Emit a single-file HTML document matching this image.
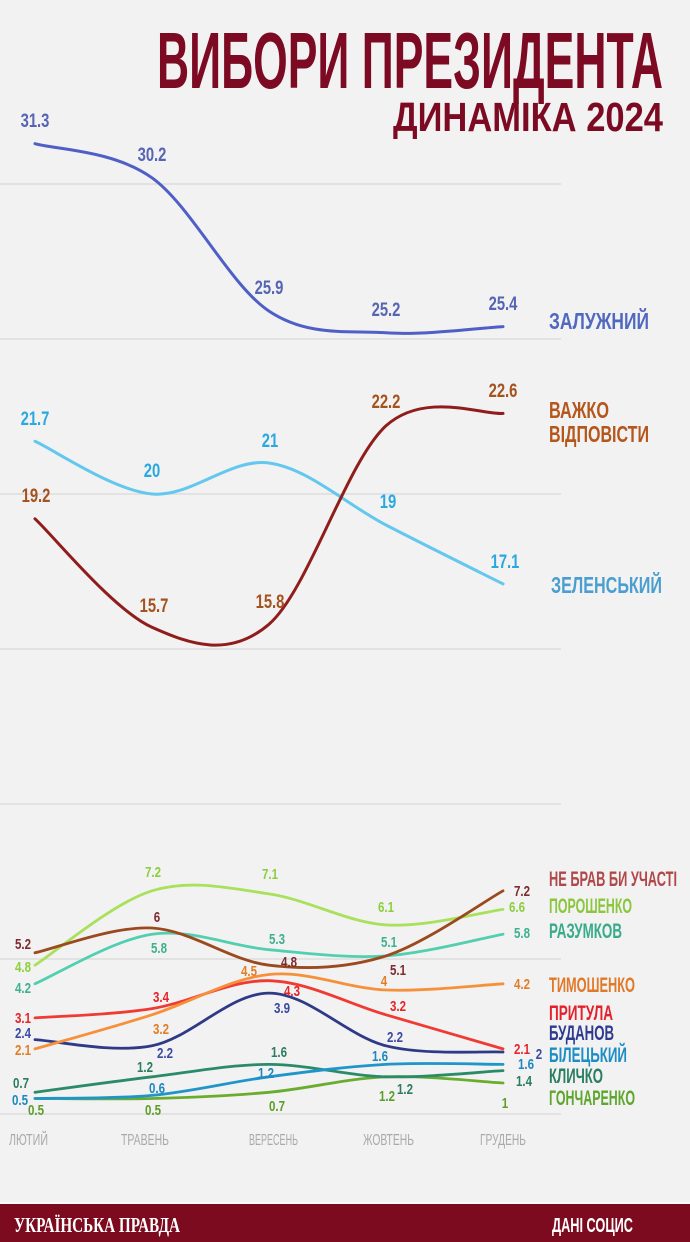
<!DOCTYPE html>
<html>
<head>
<meta charset="utf-8">
<style>
html,body{margin:0;padding:0;background:#f2f2f2;}
svg{display:block;}
text{font-family:"Liberation Sans","Noto Sans CJK SC",sans-serif;font-weight:bold;}
.n{font-size:19px;text-anchor:middle;}
.s{font-size:15px;text-anchor:middle;}
.lg{font-size:23px;}
.lb{font-size:21px;}
.m{font-size:16px;font-weight:normal;fill:#a9a9a9;}
path.l{fill:none;stroke-linecap:round;stroke-linejoin:round;}
</style>
</head>
<body>
<svg width="690" height="1242" viewBox="0 0 690 1242" xmlns="http://www.w3.org/2000/svg">
<rect x="0" y="0" width="690" height="1242" fill="#f2f2f2"/>

<!-- gridlines -->
<g stroke="#dcdcdc" stroke-width="1.5">
<line x1="0" y1="184" x2="561" y2="184"/>
<line x1="0" y1="339" x2="561" y2="339"/>
<line x1="0" y1="494" x2="561" y2="494"/>
<line x1="0" y1="649" x2="561" y2="649"/>
<line x1="0" y1="804" x2="561" y2="804"/>
<line x1="0" y1="959" x2="561" y2="959"/>
<line x1="0" y1="1114" x2="561" y2="1114"/>
</g>

<!-- title -->
<text x="157" y="88" font-size="80" fill="#7d0a23" textLength="506" lengthAdjust="spacingAndGlyphs">ВИБОРИ ПРЕЗИДЕНТА</text>
<text x="393" y="131" font-size="41" fill="#7d0a23" textLength="270" lengthAdjust="spacingAndGlyphs">ДИНАМІКА 2024</text>

<!-- top lines -->
<path class="l" stroke="#4f5fc5" stroke-width="3" d="M35,143.7 C54.5,149.4 113,149.9 152,177.8 C191,205.7 230,285.3 269,311.1 C308,336.9 347,330.2 386,332.8 C425,335.4 483.5,327.6 503,326.6"/>
<path class="l" stroke="#63c7ee" stroke-width="3" d="M35,441.3 C54.5,450.1 113,490.4 152,494 C191,497.6 230,457.8 269,463 C308,468.2 347,504.9 386,525 C425,545.2 483.5,574.1 503,583.9"/>
<path class="l" stroke="#8f1d1b" stroke-width="3" d="M35,518.8 C54.5,536.9 113,609.7 152,627.3 C191,644.9 230,657.8 269,624.2 C308,590.6 347,460.9 386,425.8 C425,390.7 483.5,415.5 503,413.4"/>

<!-- top labels -->
<g fill="#5664b4">
<text class="n" transform="translate(35 127) scale(.78 1)">31.3</text>
<text class="n" transform="translate(152 161) scale(.78 1)">30.2</text>
<text class="n" transform="translate(269 294) scale(.78 1)">25.9</text>
<text class="n" transform="translate(386 316) scale(.78 1)">25.2</text>
<text class="n" transform="translate(503 310) scale(.78 1)">25.4</text>
</g>
<g fill="#2aa8e0">
<text class="n" transform="translate(35 425) scale(.78 1)">21.7</text>
<text class="n" transform="translate(152 477) scale(.78 1)">20</text>
<text class="n" transform="translate(270 447) scale(.78 1)">21</text>
<text class="n" transform="translate(388 508) scale(.78 1)">19</text>
<text class="n" transform="translate(505 568) scale(.78 1)">17.1</text>
</g>
<g fill="#a4521e">
<text class="n" transform="translate(36 502) scale(.78 1)">19.2</text>
<text class="n" transform="translate(154 612) scale(.78 1)">15.7</text>
<text class="n" transform="translate(270 608) scale(.78 1)">15.8</text>
<text class="n" transform="translate(386 408) scale(.78 1)">22.2</text>
<text class="n" transform="translate(503 397) scale(.78 1)">22.6</text>
</g>

<!-- top legends -->
<text class="lg" x="549" y="329" fill="#5068c0" textLength="100" lengthAdjust="spacingAndGlyphs">ЗАЛУЖНИЙ</text>
<text class="lg" x="549" y="418" fill="#b5561c" textLength="60" lengthAdjust="spacingAndGlyphs">ВАЖКО</text>
<text class="lg" x="549" y="442" fill="#b5561c" textLength="100" lengthAdjust="spacingAndGlyphs">ВІДПОВІСТИ</text>
<text class="lg" x="551" y="593" fill="#4a9fd0" textLength="111" lengthAdjust="spacingAndGlyphs">ЗЕЛЕНСЬКИЙ</text>

<!-- bottom lines -->
<g stroke-width="2.8">
<path class="l" stroke="#6aad2e" d="M35,1098.5 C54.5,1098.5 113,1099.5 152,1098.5 C191,1097.5 230,1095.9 269,1092.3 C308,1088.7 347,1078.4 386,1076.8 C425,1075.3 483.5,1082 503,1083"/>
<path class="l" stroke="#2b8b69" d="M35,1092.3 C54.5,1089.7 113,1081.5 152,1076.8 C191,1072.2 230,1064.4 269,1064.4 C308,1064.4 347,1075.8 386,1076.8 C425,1077.8 483.5,1071.6 503,1070.6"/>
<path class="l" stroke="#1f95c9" d="M35,1098.5 C54.5,1098 113,1099 152,1095.4 C191,1091.8 230,1082 269,1076.8 C308,1071.6 347,1066.5 386,1064.4 C425,1062.3 483.5,1064.4 503,1064.4"/>
<path class="l" stroke="#2f3a87" d="M35,1039.6 C54.5,1040.6 113,1053.6 152,1045.8 C191,1038.1 230,993.1 269,993.1 C308,993.1 347,1036 386,1045.8 C425,1055.6 483.5,1051 503,1052"/>
<path class="l" stroke="#ef3b33" d="M35,1017.9 C54.5,1016.4 113,1014.8 152,1008.6 C191,1002.4 230,979.7 269,980.7 C308,981.7 347,1003.4 386,1014.8 C425,1026.2 483.5,1043.2 503,1048.9"/>
<path class="l" stroke="#f7903a" d="M35,1048.9 C54.5,1043.2 113,1027.2 152,1014.8 C191,1002.4 230,978.6 269,974.5 C308,970.4 347,988.5 386,990 C425,991.6 483.5,984.8 503,983.8"/>
<path class="l" stroke="#52cfb0" d="M35,983.8 C54.5,975.5 113,939.9 152,934.2 C191,928.5 230,946.1 269,949.7 C308,953.3 347,958.5 386,955.9 C425,953.3 483.5,937.8 503,934.2"/>
<path class="l" stroke="#a9e05c" d="M35,965.2 C54.5,952.8 113,902.7 152,890.8 C191,878.9 230,888.2 269,893.9 C308,899.6 347,922.3 386,924.9 C425,927.5 483.5,912 503,909.4"/>
<path class="l" stroke="#9a4a1e" d="M35,952.8 C54.5,948.7 113,925.9 152,928 C191,930.1 230,960.6 269,965.2 C308,969.9 347,968.3 386,955.9 C425,943.5 483.5,901.7 503,890.8"/>
</g>

<!-- bottom labels -->
<g fill="#7e2a2e">
<text class="s" transform="translate(23 949) scale(.77 1)">5.2</text>
<text class="s" transform="translate(157 922) scale(.77 1)">6</text>
<text class="s" transform="translate(289 967) scale(.77 1)">4.8</text>
<text class="s" transform="translate(398 975) scale(.77 1)">5.1</text>
<text class="s" transform="translate(522 896) scale(.77 1)">7.2</text>
</g>
<g fill="#8ccf3c">
<text class="s" transform="translate(153 877) scale(.77 1)">7.2</text>
<text class="s" transform="translate(270 879) scale(.77 1)">7.1</text>
<text class="s" transform="translate(23 972) scale(.77 1)">4.8</text>
<text class="s" transform="translate(386 912) scale(.77 1)">6.1</text>
<text class="s" transform="translate(517 912) scale(.77 1)">6.6</text>
</g>
<g fill="#3fb08e">
<text class="s" transform="translate(159 953) scale(.77 1)">5.8</text>
<text class="s" transform="translate(277 944) scale(.77 1)">5.3</text>
<text class="s" transform="translate(23 993) scale(.77 1)">4.2</text>
<text class="s" transform="translate(389 947) scale(.77 1)">5.1</text>
<text class="s" transform="translate(522 938) scale(.77 1)">5.8</text>
</g>
<g fill="#e27d26">
<text class="s" transform="translate(249 976) scale(.77 1)">4.5</text>
<text class="s" transform="translate(161 1034) scale(.77 1)">3.2</text>
<text class="s" transform="translate(23 1055) scale(.77 1)">2.1</text>
<text class="s" transform="translate(384 986) scale(.77 1)">4</text>
<text class="s" transform="translate(522 989) scale(.77 1)">4.2</text>
</g>
<g fill="#e5252b">
<text class="s" transform="translate(161 1002) scale(.77 1)">3.4</text>
<text class="s" transform="translate(292 996) scale(.77 1)">4.3</text>
<text class="s" transform="translate(23 1023) scale(.77 1)">3.1</text>
<text class="s" transform="translate(398 1011) scale(.77 1)">3.2</text>
<text class="s" transform="translate(522 1054) scale(.77 1)">2.1</text>
</g>
<g fill="#3b4aa3">
<text class="s" transform="translate(282 1013) scale(.77 1)">3.9</text>
<text class="s" transform="translate(23 1038) scale(.77 1)">2.4</text>
<text class="s" transform="translate(165 1058) scale(.77 1)">2.2</text>
<text class="s" transform="translate(395 1042) scale(.77 1)">2.2</text>
<text class="s" transform="translate(539 1059) scale(.77 1)">2</text>
</g>
<g fill="#2b7d5e">
<text class="s" transform="translate(279 1057) scale(.77 1)">1.6</text>
<text class="s" transform="translate(145 1072) scale(.77 1)">1.2</text>
<text class="s" transform="translate(21 1088) scale(.77 1)">0.7</text>
<text class="s" transform="translate(405 1094) scale(.77 1)">1.2</text>
<text class="s" transform="translate(524 1086) scale(.77 1)">1.4</text>
</g>
<g fill="#1e87bf">
<text class="s" transform="translate(266 1078) scale(.77 1)">1.2</text>
<text class="s" transform="translate(157 1093) scale(.77 1)">0.6</text>
<text class="s" transform="translate(20 1105) scale(.77 1)">0.5</text>
<text class="s" transform="translate(380 1061) scale(.77 1)">1.6</text>
<text class="s" transform="translate(526 1069) scale(.77 1)">1.6</text>
</g>
<g fill="#5c9e2a">
<text class="s" transform="translate(36 1115) scale(.77 1)">0.5</text>
<text class="s" transform="translate(153 1115) scale(.77 1)">0.5</text>
<text class="s" transform="translate(277 1111) scale(.77 1)">0.7</text>
<text class="s" transform="translate(387 1101) scale(.77 1)">1.2</text>
<text class="s" transform="translate(505 1108) scale(.77 1)">1</text>
</g>

<!-- bottom legends -->
<text class="lb" x="549" y="886" fill="#b0484a" textLength="128" lengthAdjust="spacingAndGlyphs">НЕ БРАВ БИ УЧАСТІ</text>
<text class="lb" x="549" y="913" fill="#8cc63f" textLength="83" lengthAdjust="spacingAndGlyphs">ПОРОШЕНКО</text>
<text class="lb" x="549" y="938" fill="#39ab89" textLength="73" lengthAdjust="spacingAndGlyphs">РАЗУМКОВ</text>
<text class="lb" x="549" y="992" fill="#e0792a" textLength="86" lengthAdjust="spacingAndGlyphs">ТИМОШЕНКО</text>
<text class="lb" x="549" y="1020" fill="#e5202b" textLength="64" lengthAdjust="spacingAndGlyphs">ПРИТУЛА</text>
<text class="lb" x="549" y="1040" fill="#2d3a8e" textLength="65" lengthAdjust="spacingAndGlyphs">БУДАНОВ</text>
<text class="lb" x="549" y="1062" fill="#1d8dc6" textLength="78" lengthAdjust="spacingAndGlyphs">БІЛЕЦЬКИЙ</text>
<text class="lb" x="549" y="1083" fill="#2a7e60" textLength="54" lengthAdjust="spacingAndGlyphs">КЛИЧКО</text>
<text class="lb" x="549" y="1105" fill="#5ea62e" textLength="86" lengthAdjust="spacingAndGlyphs">ГОНЧАРЕНКО</text>

<!-- month labels -->
<text class="m" x="9" y="1145" textLength="39" lengthAdjust="spacingAndGlyphs">ЛЮТИЙ</text>
<text class="m" x="121" y="1145" textLength="48" lengthAdjust="spacingAndGlyphs">ТРАВЕНЬ</text>
<text class="m" x="249" y="1145" textLength="49" lengthAdjust="spacingAndGlyphs">ВЕРЕСЕНЬ</text>
<text class="m" x="363" y="1145" textLength="51" lengthAdjust="spacingAndGlyphs">ЖОВТЕНЬ</text>
<text class="m" x="480" y="1145" textLength="46" lengthAdjust="spacingAndGlyphs">ГРУДЕНЬ</text>

<!-- footer -->
<rect x="0" y="1202" width="690" height="2" fill="#fafafa"/>
<rect x="0" y="1204" width="690" height="38" fill="#7d0b1f"/>
<text x="14" y="1232" font-size="21" fill="#ffffff" style="font-family:'Liberation Serif',serif;font-weight:bold;" textLength="166" lengthAdjust="spacingAndGlyphs">УКРАЇНСЬКА ПРАВДА</text>
<text x="552" y="1232" font-size="20" fill="#ffffff" textLength="81" lengthAdjust="spacingAndGlyphs">ДАНІ СОЦИС</text>
</svg>
</body>
</html>
